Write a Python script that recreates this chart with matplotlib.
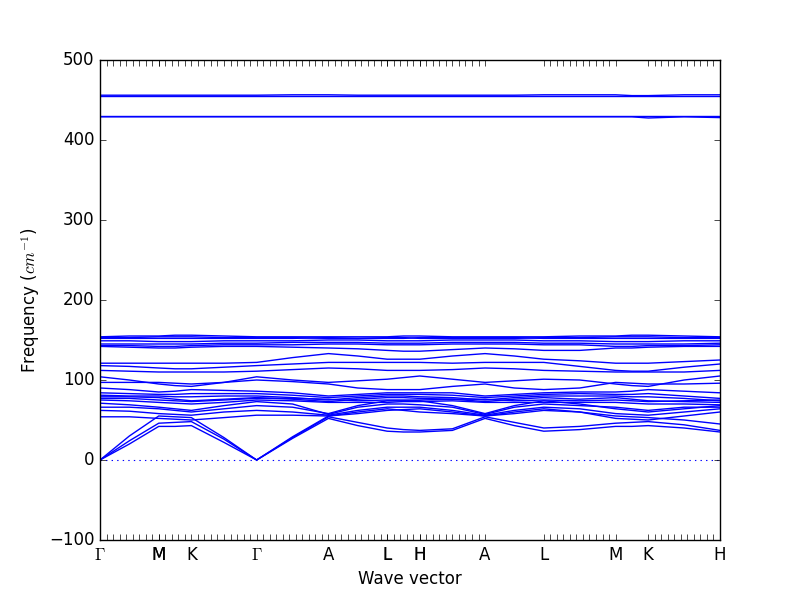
import matplotlib
matplotlib.use('Agg')
import matplotlib.pyplot as plt

plt.style.use('classic')

# high-symmetry path (q-point index along the path)
sym_labels = ['$\\Gamma$', 'M', 'K', '$\\Gamma$', 'A', 'L', 'H', 'A', 'L', 'M', 'K', 'H']
sym_pos = [0, 9, 14, 24, 35, 44, 49, 59, 68, 79, 84, 95]
# segments drawn with a tick at every q-point
ticked_segments = [(0, 9), (9, 14), (14, 24), (24, 35), (35, 44), (44, 49),
                   (49, 59), (68, 79), (84, 95)]
# labels that were written twice in the original figure
double_labels = [1, 5, 6]

# q positions where band frequencies were read
q = [0, 4.5, 9, 11.5, 14, 19, 24, 29.5, 35, 39.5, 44, 46.5, 49, 54, 59,
     63.5, 68, 73.5, 79, 81.5, 84, 89.5, 95]

# frequencies (cm^-1)
top1 = [456, 456, 456, 456, 456, 456, 456, 456.5, 456.5, 456, 456, 456, 456, 456, 456,
        456, 456.5, 456.5, 456.5, 455.5, 455.5, 456.5, 456.5]
top2 = [455, 455, 455, 455, 455, 455, 455, 455, 455, 455, 455, 455, 455, 455, 455,
        455, 455, 455, 455, 455, 455, 455, 455]
top3 = [430, 430, 430, 430, 430, 430, 430, 430, 430, 430, 430, 430, 430, 430, 430,
        430, 430, 430, 430, 430, 430, 430, 430]
top4 = [429, 429, 429, 429, 429, 429, 429, 429, 429, 429, 429, 429, 429, 429, 429,
        429, 429, 429, 429, 429, 427.5, 429, 428]

b1 = [154, 155, 155, 156, 156, 155, 154, 154, 154, 154, 154, 155, 155, 154, 154,
      154, 154, 155, 155, 156, 156, 155, 154]
b2 = [153, 153, 154, 154, 154, 153, 153, 153, 152, 152, 153, 153, 152, 152, 152,
      152, 153, 153, 154, 154, 154, 153, 153]
b3 = [152, 152, 152, 152, 152, 152, 152, 152, 153, 152, 152, 152, 153, 153, 153,
      153, 152, 152, 152, 152, 152, 152, 152]
b4 = [149, 149, 148, 148, 148, 149, 149, 149, 150, 150, 149, 149, 149, 150, 150,
      150, 149, 149, 148, 148, 148, 149, 149]
b5 = [145, 145, 145, 145, 145, 146, 146, 147, 147, 147, 146, 146, 146, 147, 147,
      147, 146, 146, 145, 145, 145, 145, 146]
b6 = [143, 143, 142, 142, 143, 144, 144, 144, 145, 145, 144, 144, 144, 145, 145,
      145, 144, 144, 142, 142, 143, 143, 144]
b7 = [142, 141, 140, 140, 141, 142, 142, 141, 140, 139, 137, 136, 136, 138, 140,
      139, 137, 137, 140, 140, 141, 142, 142]

c1 = [121, 121, 121, 121, 121, 121, 122, 128, 133, 130, 126, 126, 126, 130, 133,
      130, 126, 124, 121, 121, 121, 123, 125]
c2 = [118, 117, 115, 114, 114, 116, 118, 120, 122, 122, 122, 122, 122, 121, 122,
      122, 122, 117, 112, 111, 111, 116, 120]
c3 = [112, 111, 110, 110, 110, 110, 111, 113, 115, 114, 112, 112, 112, 113, 115,
      114, 112, 111, 110, 110, 110, 110, 112]

d1 = [104, 100, 95, 93, 92, 97, 104, 100, 97, 99, 101, 103, 105, 101, 97,
      99, 101, 100, 95, 93, 92, 100, 105]
d2 = [97, 97, 97, 96, 95, 97, 100, 98, 95, 90, 88, 88, 88, 92, 95,
      90, 88, 90, 97, 96, 95, 95, 96]
d3 = [90, 88, 85, 86, 88, 87, 86, 84, 80, 82, 84, 84, 84, 84, 80,
      82, 84, 85, 85, 86, 88, 86, 84]

o1 = [84, 83, 82, 82, 83, 83, 83, 81, 78, 80, 82, 82, 82, 81, 78,
      80, 82, 83, 82, 82, 83, 80, 77]
o2 = [81, 80, 80, 79, 79, 80, 80, 78, 75, 78, 80, 80, 79, 78, 75,
      78, 80, 80, 80, 79, 79, 77, 74]
o3 = [79, 79, 78, 76, 74, 76, 78, 76, 73, 76, 78, 78, 77, 76, 73,
      76, 78, 76, 78, 76, 74, 73, 72]
o4 = [77, 77, 75, 74, 73, 75, 77, 77, 76, 74, 75, 75, 75, 76, 76,
      74, 75, 74, 75, 74, 73, 74, 75]
o5 = [75, 74, 72, 71, 70, 72, 75, 74, 72, 72, 72, 73, 73, 74, 72,
      72, 72, 72, 72, 71, 70, 70, 69]
o6 = [71, 69, 66, 64, 62, 68, 73, 70, 57, 66, 70, 70, 69, 66, 57,
      66, 70, 68, 66, 64, 62, 66, 66]
o7 = [66, 66, 64, 62, 60, 64, 68, 66, 58, 68, 74, 74, 74, 68, 58,
      68, 74, 70, 64, 62, 60, 64, 68]
o8 = [62, 61, 58, 57, 56, 60, 62, 60, 56, 62, 66, 66, 66, 62, 56,
      62, 66, 64, 58, 57, 56, 60, 64]
o9 = [54, 54, 52, 51, 50, 53, 56, 56, 55, 58, 62, 63, 64, 60, 55,
      58, 62, 60, 52, 51, 50, 55, 60]

ac3 = [0, 30, 55, 54, 53, 28, 0, 29, 55, 60, 64, 62, 60, 58, 55,
       60, 64, 60, 55, 54, 53, 50, 45]
ac2 = [0, 24, 46, 47, 48, 26, 0, 28, 54, 47, 40, 38, 37, 39, 54,
       47, 40, 42, 46, 47, 48, 44, 37]
ac1 = [0, 20, 42, 42, 43, 22, 0, 27, 52, 43, 36, 35, 35, 37, 52,
       43, 36, 38, 42, 42, 43, 40, 35]

bands = [top1, top2, top3, top4, b1, b2, b3, b4, b5, b6, b7, c1, c2, c3,
         d1, d2, d3, o1, o2, o3, o4, o5, o6, o7, o8, o9, ac3, ac2, ac1]

fig, ax = plt.subplots(figsize=(8, 6))
for band in bands:
    ax.plot(q, band, 'b-', lw=1.0)
ax.axhline(0, color='b', ls=':', lw=0.8)

ticks, labels = [], []
for a, b in ticked_segments:
    for i in range(a, b + 1):
        ticks.append(i)
        labels.append('')
for i, (p, lab) in enumerate(zip(sym_pos, sym_labels)):
    ticks.append(p)
    labels.append(lab)
    if i in double_labels:
        ticks.append(p)
        labels.append(lab)
# drop unlabelled duplicates sitting on a labelled point
keep = [(t, l) for t, l in zip(ticks, labels) if l or t not in sym_pos]
ax.set_xticks([t for t, l in keep])
ax.set_xticklabels([l for t, l in keep])

ax.set_xlim(0, 95)
ax.set_ylim(-100, 500)
ax.set_xlabel('Wave vector')
ax.set_ylabel('Frequency ($cm^{-1}$)')

fig.savefig('out.png', dpi=100, facecolor='white')
